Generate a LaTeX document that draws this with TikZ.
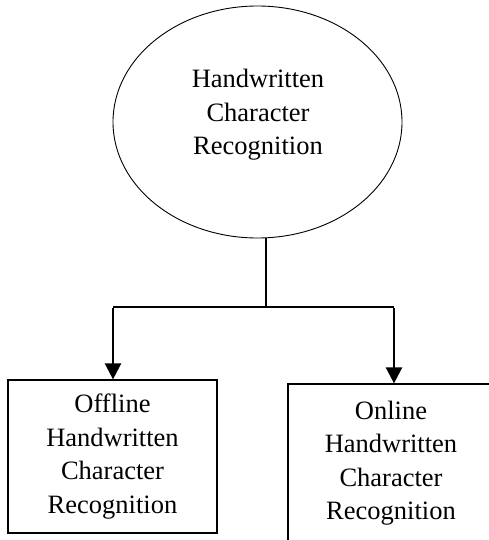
\documentclass[tikz,border=0pt]{standalone}
\usepackage{fontspec}
\setmainfont{Liberation Serif}
\usetikzlibrary{shapes.geometric,arrows.meta}

\begin{document}
\begin{tikzpicture}[x=1pt,y=-1pt,
  txt/.style={align=center,font=\fontsize{26.5}{33.5}\selectfont,inner sep=0pt},
  topshape/.style={draw,ellipse,line width=0.9pt,minimum width=289pt,minimum height=232pt,inner sep=0pt},
  catbox/.style={draw,rectangle,line width=1.2pt,txt},
  tree/.style={line width=1.2pt},
  down/.style={line width=2.4pt,-{Triangle[width=16pt,length=16pt]}}]
\useasboundingbox (0,0) rectangle (489,540);
\clip (0,0) rectangle (489,540);

% root ellipse and its label
\node[topshape] (hcr) at (257.5,122) {};
\node[txt] (hcrtext) at (258,115) {Handwritten\\Character\\Recognition};

% two categories
\node[catbox,minimum width=209pt,minimum height=153pt] (off) at (112.5,456.5)
  {Offline\\Handwritten\\Character\\Recognition};
\node[catbox,minimum width=206pt,minimum height=158pt] (on) at (391,463)
  {Online\\Handwritten\\Character\\Recognition};

% branching connectors
\coordinate (split) at (266,307);
\coordinate (jl) at (113,307);
\coordinate (jr) at (394,307);
\draw[tree] ([xshift=8.5pt]hcr.south) -- (split);
\draw[tree] (jl) -- (jr);
\draw[down] ([yshift=-0.6pt]jl) -- (jl |- off.north);
\draw[down] ([yshift=-0.6pt]jr) -- (jr |- on.north);
\end{tikzpicture}
\end{document}
